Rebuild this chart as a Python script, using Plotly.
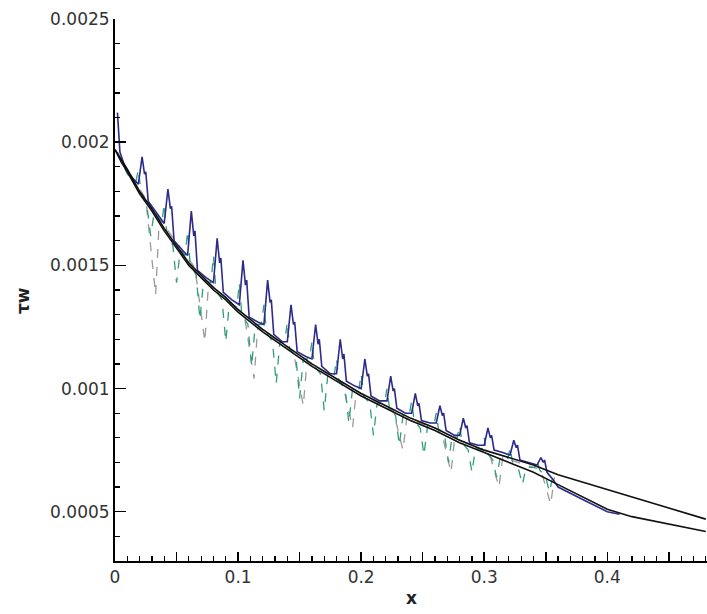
import plotly.graph_objects as go

# ---- data ----
curve_x = [0, 0.005, 0.01, 0.02, 0.03, 0.04, 0.05, 0.06, 0.07, 0.08, 0.09, 0.10,
           0.12, 0.14, 0.16, 0.18, 0.20, 0.22, 0.24, 0.26, 0.28, 0.30, 0.32, 0.34,
           0.36, 0.38, 0.40, 0.42, 0.44, 0.46, 0.48]
upper_y = [0.00197, 0.00193, 0.00189, 0.00180, 0.00173, 0.00165, 0.00158, 0.00151,
           0.00146, 0.00141, 0.00137, 0.00132, 0.00124, 0.00117, 0.00110, 0.00104,
           0.00098, 0.00093, 0.00088, 0.00084, 0.00079, 0.00075, 0.00072, 0.00069,
           0.00065, 0.00062, 0.00059, 0.00056, 0.00053, 0.00050, 0.00047]
lower_y = [0.00197, 0.00192, 0.00188, 0.00179, 0.00172, 0.00164, 0.00157, 0.00150,
           0.00145, 0.00140, 0.00136, 0.00131, 0.00123, 0.00116, 0.00109, 0.00103,
           0.00097, 0.00092, 0.00087, 0.00083, 0.00078, 0.00074, 0.00070, 0.00066,
           0.00061, 0.00056, 0.00051, 0.00048, 0.00046, 0.00044, 0.00042]

blue_x = [0.002, 0.004, 0.008, 0.013,
          0.019, 0.022, 0.024, 0.025, 0.027, 0.034,
          0.040, 0.043, 0.045, 0.046, 0.048, 0.055,
          0.059, 0.062, 0.064, 0.065, 0.067, 0.074,
          0.080, 0.083, 0.085, 0.086, 0.088, 0.095,
          0.101, 0.104, 0.106, 0.107, 0.109, 0.116,
          0.121, 0.124, 0.126, 0.127, 0.129, 0.136,
          0.140, 0.143, 0.145, 0.146, 0.148, 0.155,
          0.160, 0.163, 0.165, 0.166, 0.168, 0.175,
          0.180, 0.183, 0.185, 0.186, 0.188, 0.195,
          0.200, 0.203, 0.205, 0.206, 0.208, 0.215,
          0.221, 0.224, 0.226, 0.227, 0.229, 0.236,
          0.241, 0.244, 0.246, 0.247, 0.249, 0.256,
          0.261, 0.264, 0.266, 0.267, 0.269, 0.276,
          0.280, 0.283, 0.285, 0.286, 0.288, 0.295,
          0.300, 0.303, 0.305, 0.306, 0.308, 0.315,
          0.321, 0.324, 0.326, 0.327, 0.329, 0.336,
          0.343, 0.346, 0.348, 0.349, 0.351, 0.356,
          0.36, 0.38, 0.40, 0.41]
blue_y = [0.00212, 0.00196, 0.00190, 0.00186,
          0.00183, 0.00194, 0.00187, 0.00188, 0.00176, 0.00171,
          0.00167, 0.00181, 0.00173, 0.00174, 0.00160, 0.00156,
          0.00154, 0.00172, 0.00162, 0.00164, 0.00148, 0.00145,
          0.00143, 0.00161, 0.00151, 0.00153, 0.00139, 0.00136,
          0.00134, 0.00152, 0.00142, 0.00144, 0.00129, 0.00127,
          0.00126, 0.00144, 0.00135, 0.00136, 0.00122, 0.00119,
          0.00119, 0.00134, 0.00126, 0.00127, 0.00115, 0.00113,
          0.00112, 0.00126, 0.00118, 0.00120, 0.00109, 0.00106,
          0.00106, 0.00120, 0.00112, 0.00114, 0.00103, 0.00101,
          0.00100, 0.00112, 0.00105, 0.00106, 0.00097, 0.00095,
          0.00095, 0.00105, 0.00099, 0.00100, 0.00092, 0.00090,
          0.00090, 0.00098, 0.00093, 0.00094, 0.00087, 0.00086,
          0.00086, 0.00093, 0.00089, 0.00090, 0.00083, 0.00081,
          0.00081, 0.00088, 0.00084, 0.00085, 0.00078, 0.00077,
          0.00077, 0.00084, 0.00080, 0.00081, 0.00075, 0.00074,
          0.00073, 0.00079, 0.00076, 0.00077, 0.00071, 0.00070,
          0.00069, 0.00072, 0.00070, 0.00071, 0.00066, 0.00063,
          0.00060, 0.00055, 0.00050, 0.00049]

green_x = [0.002, 0.010,
           0.017, 0.019, 0.021, 0.026, 0.029, 0.032,
           0.038, 0.040, 0.042, 0.047, 0.050, 0.053,
           0.057, 0.059, 0.061, 0.066, 0.069, 0.072,
           0.078, 0.080, 0.082, 0.087, 0.090, 0.093,
           0.099, 0.101, 0.103, 0.108, 0.111, 0.114,
           0.119, 0.121, 0.123, 0.128, 0.131, 0.134,
           0.138, 0.140, 0.142, 0.147, 0.150, 0.153,
           0.158, 0.160, 0.162, 0.167, 0.170, 0.173,
           0.178, 0.180, 0.182, 0.187, 0.190, 0.193,
           0.198, 0.200, 0.202, 0.207, 0.210, 0.213,
           0.219, 0.221, 0.223, 0.228, 0.231, 0.234,
           0.239, 0.241, 0.243, 0.248, 0.251, 0.254,
           0.259, 0.261, 0.263, 0.268, 0.271, 0.274,
           0.278, 0.280, 0.282, 0.287, 0.290, 0.293,
           0.298, 0.300, 0.302, 0.307, 0.310, 0.313,
           0.319, 0.321, 0.323, 0.328, 0.331, 0.334,
           0.341, 0.343, 0.345, 0.350, 0.353, 0.356]
green_y = [0.00196, 0.00187,
           0.00184, 0.00189, 0.00180, 0.00174, 0.00162, 0.00172,
           0.00167, 0.00175, 0.00164, 0.00158, 0.00143, 0.00156,
           0.00154, 0.00164, 0.00151, 0.00146, 0.00128, 0.00144,
           0.00143, 0.00154, 0.00140, 0.00136, 0.00119, 0.00135,
           0.00133, 0.00143, 0.00130, 0.00126, 0.00109, 0.00126,
           0.00126, 0.00134, 0.00123, 0.00119, 0.00102, 0.00119,
           0.00119, 0.00127, 0.00116, 0.00113, 0.00096, 0.00112,
           0.00112, 0.00119, 0.00109, 0.00106, 0.00091, 0.00106,
           0.00105, 0.00112, 0.00103, 0.00100, 0.00086, 0.00100,
           0.00099, 0.00106, 0.00097, 0.00094, 0.00081, 0.00094,
           0.00094, 0.00100, 0.00092, 0.00089, 0.00077, 0.00089,
           0.00089, 0.00095, 0.00087, 0.00084, 0.00073, 0.00085,
           0.00085, 0.00090, 0.00083, 0.00080, 0.00070, 0.00081,
           0.00080, 0.00085, 0.00078, 0.00075, 0.00066, 0.00076,
           0.00075, 0.00080, 0.00074, 0.00071, 0.00064, 0.00072,
           0.00071, 0.00076, 0.00070, 0.00067, 0.00061, 0.00068,
           0.00068, 0.00071, 0.00067, 0.00064, 0.00058, 0.00065]

gray_x = [0.005, 0.025, 0.033, 0.036,
          0.065, 0.073, 0.076,
          0.105, 0.113, 0.116,
          0.145, 0.153, 0.156,
          0.185, 0.193, 0.196,
          0.226, 0.234, 0.237,
          0.265, 0.273, 0.276,
          0.304, 0.312, 0.315,
          0.346, 0.354, 0.357]
gray_y = [0.00193, 0.00177, 0.00138, 0.00169,
          0.00149, 0.00119, 0.00143,
          0.00130, 0.00104, 0.00125,
          0.00115, 0.00093, 0.00111,
          0.00102, 0.00084, 0.00099,
          0.00091, 0.00075, 0.00088,
          0.00083, 0.00066, 0.00080,
          0.00074, 0.00060, 0.00072,
          0.00067, 0.00053, 0.00064]

x_tickvals = [0, 0.05, 0.1, 0.15, 0.2, 0.25, 0.3, 0.35, 0.4, 0.45]
x_ticktext = ["0", "", "0.1", "", "0.2", "", "0.3", "", "0.4", ""]
y_tickvals = [0.0005, 0.001, 0.0015, 0.002, 0.0025]
y_ticktext = ["0.0005", "0.001", "0.0015", "0.002", "0.0025"]
x_title = "x"
y_title = "τw"

# ---- figure ----
fig = go.Figure()
fig.add_trace(go.Scatter(x=gray_x, y=gray_y, mode="lines",
                         line=dict(color="#9a9a9a", width=1.3, dash="dash")))
fig.add_trace(go.Scatter(x=green_x, y=green_y, mode="lines",
                         line=dict(color="#2f9d7e", width=1.3, dash="dash")))
fig.add_trace(go.Scatter(x=blue_x, y=blue_y, mode="lines",
                         line=dict(color="#2c2a8a", width=1.6)))
fig.add_trace(go.Scatter(x=curve_x, y=upper_y, mode="lines",
                         line=dict(color="#111111", width=1.6)))
fig.add_trace(go.Scatter(x=curve_x, y=lower_y, mode="lines",
                         line=dict(color="#111111", width=1.6)))

font_fam = "DejaVu Sans, Arial, sans-serif"
fig.update_layout(
    template="none",
    width=707, height=614,
    margin=dict(l=115, r=0, t=19, b=53, autoexpand=False),
    paper_bgcolor="white", plot_bgcolor="white",
    showlegend=False,
    font=dict(family=font_fam, size=17, color="#333333"),
    annotations=[
        dict(text="<b>" + x_title + "</b>", xref="paper", yref="paper",
             x=0.5, y=-0.068, xanchor="center", yanchor="middle",
             showarrow=False, font=dict(size=17, color="#222222")),
        dict(text="<b>" + y_title + "</b>", xref="paper", yref="paper",
             x=-0.155, y=0.48, xanchor="center", yanchor="middle",
             textangle=-90, showarrow=False, font=dict(size=17, color="#222222")),
    ],
)
fig.update_xaxes(
    range=[0, 0.481], showgrid=False, zeroline=False, automargin=False,
    showline=True, linecolor="black", linewidth=2,
    ticks="inside", ticklen=9, tickwidth=1.5, tickcolor="black",
    tickvals=x_tickvals, ticktext=x_ticktext,
    minor=dict(dtick=0.01, ticks="inside", ticklen=5, tickwidth=1.2, tickcolor="black"),
    tickfont=dict(size=17),
)
fig.update_yaxes(
    range=[0.0003, 0.0025], showgrid=False, zeroline=False, automargin=False,
    showline=True, linecolor="black", linewidth=2,
    ticks="inside", ticklen=11, tickwidth=1.5, tickcolor="black",
    tickvals=y_tickvals, ticktext=y_ticktext,
    minor=dict(dtick=0.0001, ticks="inside", ticklen=5, tickwidth=1.2, tickcolor="black"),
    tickfont=dict(size=17),
)

fig.write_html(
    "out.html",
    config={"displayModeBar": False, "staticPlot": True},
    post_script="document.body.style.margin='0';document.body.style.padding='0';"
                "document.body.style.overflow='hidden';",
)
